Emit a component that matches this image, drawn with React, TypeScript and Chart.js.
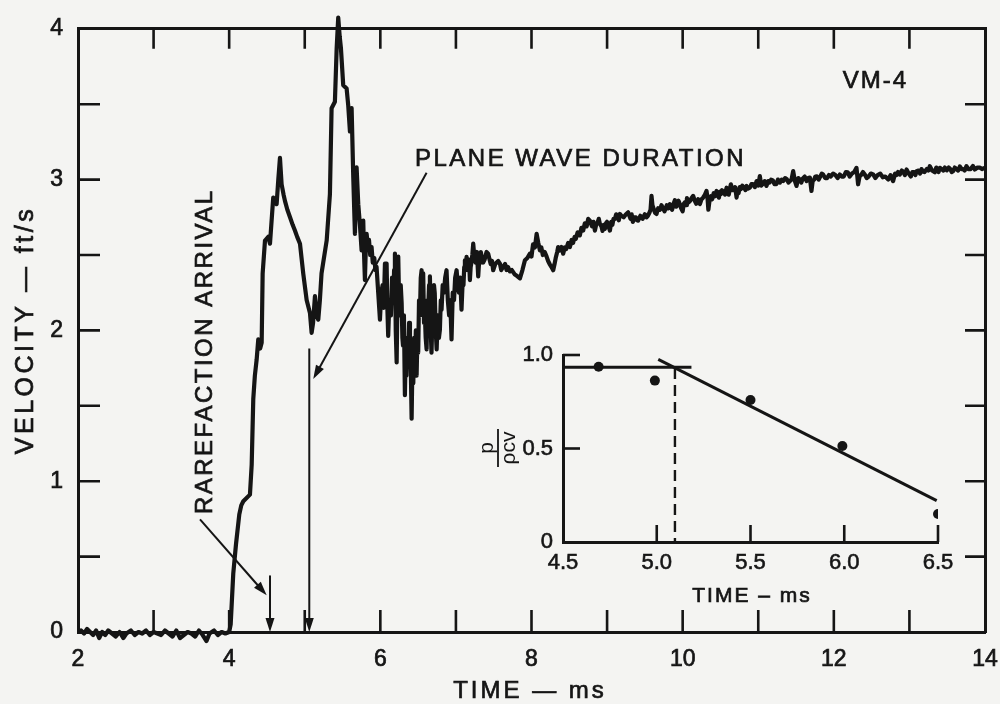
import React, { useEffect, useRef } from "react";
import { Chart, registerables } from "chart.js";

Chart.register(...registerables);

// ---------- main record: [time (ms), velocity (ft/s)] ----------
const baselineTrace: [number, number][] = [
  [2.04, 0.01], [2.08, -0.01], [2.12, 0.02], [2.16, 0.0], [2.2, -0.02], [2.24, 0.01], [2.28, -0.04],
  [2.32, 0.0], [2.36, -0.02], [2.4, 0.01], [2.45, -0.01], [2.5, -0.03], [2.55, 0.0], [2.6, -0.04],
  [2.64, -0.01], [2.7, 0.01], [2.75, -0.02], [2.8, 0.0], [2.85, -0.01], [2.9, 0.01], [2.95, -0.02],
  [3.0, 0.0], [3.05, -0.01], [3.1, -0.02], [3.15, 0.01], [3.2, -0.01], [3.25, -0.03], [3.3, 0.01],
  [3.35, -0.04], [3.4, -0.02], [3.45, 0.0], [3.5, -0.01], [3.55, -0.03], [3.6, 0.01], [3.65, -0.02],
  [3.7, -0.06], [3.74, -0.01], [3.8, 0.01], [3.85, -0.02], [3.9, 0.0], [3.95, -0.01], [4.0, 0.0],
];

const riseTrace: [number, number][] = [
  [4.02, 0.05], [4.054, 0.386], [4.09, 0.58], [4.134, 0.78], [4.16, 0.84], [4.187, 0.867], [4.275, 0.911],
  [4.298, 1.11], [4.319, 1.545], [4.34, 1.7], [4.364, 1.808], [4.385, 1.94], [4.41, 1.88], [4.43, 1.918],
  [4.443, 2.378], [4.474, 2.596], [4.517, 2.621], [4.54, 2.575], [4.583, 2.881], [4.628, 2.837],
  [4.65, 3.0], [4.672, 3.144], [4.694, 2.969], [4.72, 2.9], [4.738, 2.859], [4.77, 2.8], [4.804, 2.752],
  [4.84, 2.7], [4.87, 2.662], [4.9, 2.62], [4.937, 2.575], [4.98, 2.378], [5.025, 2.202], [5.069, 2.115],
  [5.091, 1.984], [5.11, 2.05], [5.135, 2.227], [5.158, 2.1], [5.179, 2.071], [5.2, 2.2], [5.222, 2.378],
  [5.29, 2.596], [5.333, 2.903], [5.355, 3.473], [5.399, 3.516], [5.422, 3.867], [5.443, 4.074],
  [5.462, 3.95], [5.479, 3.869], [5.509, 3.626], [5.554, 3.604], [5.575, 3.494], [5.598, 3.319],
  [5.62, 3.474], [5.642, 3.015], [5.664, 2.64], [5.686, 3.081], [5.708, 2.837], [5.73, 2.7],
];

const ringingTrace: [number, number][] = [
  [5.752, 2.531], [5.763, 2.65], [5.774, 2.728], [5.785, 2.5], [5.796, 2.334], [5.808, 2.55],
  [5.819, 2.64], [5.835, 2.55], [5.85, 2.6], [5.866, 2.5], [5.884, 2.553], [5.9, 2.45], [5.92, 2.48],
  [5.935, 2.4], [5.95, 2.422], [5.972, 2.25], [5.995, 2.071], [6.012, 2.25], [6.03, 2.3], [6.045, 2.15],
  [6.061, 2.443], [6.072, 2.2], [6.083, 2.443], [6.093, 2.15], [6.104, 1.964], [6.12, 2.2], [6.14, 2.1],
  [6.155, 2.35], [6.171, 2.181], [6.182, 2.4], [6.193, 2.509], [6.204, 2.0], [6.216, 1.787], [6.226, 2.2],
  [6.237, 2.489], [6.248, 2.2], [6.26, 2.1], [6.27, 2.3], [6.282, 2.181], [6.292, 1.95], [6.3, 1.9],
  [6.312, 2.1], [6.325, 1.57], [6.335, 1.85], [6.345, 1.7], [6.357, 1.95], [6.369, 1.787], [6.38, 2.05],
  [6.392, 1.964], [6.403, 1.75], [6.414, 1.414], [6.425, 1.8], [6.436, 1.65], [6.447, 1.95], [6.458, 1.787],
  [6.47, 2.0], [6.48, 1.7], [6.49, 1.95], [6.501, 1.852], [6.512, 2.2], [6.524, 2.1], [6.535, 2.35],
  [6.546, 2.399], [6.557, 2.1], [6.567, 2.378], [6.578, 2.05], [6.59, 2.1], [6.6, 1.95], [6.612, 1.874],
  [6.623, 2.2], [6.634, 2.15], [6.645, 2.3], [6.656, 2.358], [6.667, 2.0], [6.677, 1.852], [6.69, 2.1],
  [6.7, 2.1], [6.71, 2.3], [6.72, 2.246], [6.733, 2.0], [6.745, 1.874], [6.76, 2.1], [6.775, 1.95],
  [6.788, 2.005], [6.8, 2.2], [6.81, 2.137], [6.825, 2.3], [6.84, 2.25], [6.858, 2.35], [6.876, 2.399],
  [6.893, 2.2], [6.91, 2.1], [6.925, 2.2], [6.942, 1.94], [6.958, 2.25], [6.975, 2.2], [6.99, 2.35],
  [7.009, 2.399], [7.025, 2.3], [7.04, 2.25], [7.057, 2.35], [7.074, 2.137], [7.087, 2.3], [7.1, 2.3],
  [7.11, 2.42], [7.119, 2.465], [7.13, 2.4], [7.141, 2.487], [7.152, 2.42], [7.163, 2.4], [7.174, 2.47],
  [7.185, 2.334], [7.195, 2.42], [7.205, 2.45], [7.217, 2.5], [7.229, 2.575], [7.245, 2.48], [7.26, 2.45],
  [7.278, 2.52], [7.295, 2.358], [7.31, 2.48], [7.32, 2.45], [7.33, 2.52], [7.34, 2.489], [7.36, 2.45],
  [7.38, 2.47], [7.405, 2.52], [7.427, 2.509], [7.445, 2.47], [7.46, 2.44], [7.478, 2.46], [7.493, 2.399],
];

const recoveryTrace: [number, number][] = [
  [7.52, 2.44], [7.56, 2.46], [7.582, 2.443], [7.6, 2.4], [7.626, 2.424], [7.65, 2.44], [7.67, 2.4],
  [7.69, 2.42], [7.714, 2.391], [7.74, 2.4], [7.78, 2.37], [7.81, 2.36], [7.847, 2.345], [7.88, 2.4],
  [7.913, 2.465], [7.945, 2.48], [7.979, 2.509], [8.0, 2.49], [8.02, 2.57], [8.045, 2.55], [8.068, 2.64],
  [8.09, 2.58], [8.111, 2.531], [8.13, 2.55], [8.15, 2.5], [8.175, 2.52], [8.2, 2.489], [8.22, 2.46],
  [8.24, 2.44], [8.265, 2.42], [8.287, 2.399], [8.305, 2.44], [8.32, 2.48], [8.34, 2.52], [8.353, 2.553],
  [8.375, 2.53], [8.398, 2.553], [8.419, 2.509], [8.44, 2.55], [8.46, 2.54], [8.485, 2.58], [8.508, 2.553],
  [8.53, 2.6], [8.55, 2.58], [8.57, 2.62], [8.587, 2.608], [8.61, 2.65], [8.64, 2.63], [8.66, 2.68],
  [8.684, 2.662], [8.705, 2.71], [8.73, 2.69], [8.75, 2.74], [8.772, 2.728], [8.8, 2.69], [8.82, 2.72],
  [8.839, 2.662], [8.855, 2.7], [8.87, 2.71], [8.89, 2.74], [8.905, 2.706], [8.925, 2.69], [8.94, 2.66],
  [8.955, 2.7], [8.971, 2.673], [8.985, 2.71], [9.0, 2.72], [9.02, 2.69], [9.037, 2.662], [9.055, 2.72],
  [9.07, 2.7], [9.085, 2.74], [9.103, 2.739], [9.12, 2.77], [9.14, 2.76], [9.155, 2.73], [9.169, 2.772],
  [9.19, 2.76], [9.22, 2.75], [9.25, 2.77], [9.279, 2.783], [9.295, 2.76], [9.31, 2.74], [9.325, 2.77],
  [9.341, 2.719], [9.36, 2.75], [9.38, 2.75], [9.395, 2.73], [9.411, 2.728], [9.44, 2.76], [9.47, 2.74],
  [9.5, 2.77], [9.522, 2.75], [9.54, 2.76], [9.56, 2.78], [9.575, 2.8], [9.588, 2.892], [9.6, 2.83],
  [9.62, 2.8], [9.635, 2.78], [9.654, 2.772], [9.675, 2.81], [9.7, 2.8], [9.72, 2.83], [9.738, 2.811],
  [9.76, 2.79], [9.79, 2.83], [9.81, 2.81], [9.831, 2.837], [9.845, 2.82], [9.86, 2.8], [9.88, 2.84],
  [9.897, 2.864], [9.915, 2.82], [9.93, 2.83], [9.945, 2.86], [9.963, 2.837], [9.98, 2.81], [10.0, 2.79],
  [10.015, 2.84], [10.03, 2.85], [10.045, 2.83], [10.056, 2.877], [10.08, 2.85], [10.1, 2.86],
  [10.12, 2.88], [10.139, 2.892], [10.16, 2.86], [10.18, 2.84], [10.205, 2.87], [10.228, 2.837],
  [10.25, 2.87], [10.27, 2.88], [10.295, 2.9], [10.316, 2.925], [10.33, 2.87], [10.34, 2.8], [10.355, 2.86],
  [10.373, 2.89], [10.39, 2.87], [10.41, 2.91], [10.43, 2.89], [10.448, 2.925], [10.465, 2.9], [10.48, 2.88],
  [10.495, 2.92], [10.505, 2.903], [10.52, 2.93], [10.54, 2.92], [10.56, 2.9], [10.581, 2.946],
  [10.595, 2.92], [10.61, 2.9], [10.625, 2.94], [10.638, 2.969], [10.66, 2.93], [10.68, 2.93],
  [10.695, 2.95], [10.713, 2.881], [10.725, 2.92], [10.74, 2.91], [10.755, 2.95], [10.77, 2.936],
  [10.79, 2.96], [10.81, 2.95], [10.83, 2.93], [10.845, 2.958], [10.865, 2.94], [10.889, 2.946],
  [10.91, 2.97], [10.93, 2.97], [10.955, 2.95], [10.978, 2.99], [11.0, 2.96], [11.021, 3.023],
  [11.04, 2.96], [11.06, 2.97], [11.085, 2.99], [11.109, 2.958], [11.13, 2.99], [11.15, 2.98], [11.17, 3.0],
  [11.193, 2.995], [11.215, 2.97], [11.24, 2.97], [11.26, 3.0], [11.286, 2.98], [11.31, 3.0], [11.33, 2.99],
  [11.355, 3.01], [11.378, 3.002], [11.4, 2.98], [11.42, 2.99], [11.44, 3.0], [11.462, 3.056],
  [11.485, 2.99], [11.506, 2.958], [11.53, 3.01], [11.55, 3.0], [11.57, 2.98], [11.59, 3.008],
  [11.615, 3.02], [11.64, 2.99], [11.66, 3.01], [11.683, 3.013], [11.704, 2.925], [11.72, 2.99],
  [11.74, 3.0], [11.755, 3.02], [11.775, 3.021], [11.8, 3.0], [11.82, 3.02], [11.84, 3.04], [11.858, 3.034],
  [11.885, 3.01], [11.91, 3.01], [11.935, 3.03], [11.96, 3.021], [11.99, 3.04], [12.02, 3.03],
  [12.05, 3.01], [12.079, 3.034], [12.105, 3.02], [12.13, 3.02], [12.16, 3.05], [12.185, 3.048],
  [12.21, 3.02], [12.24, 3.04], [12.27, 3.05], [12.3, 3.078], [12.321, 2.969], [12.34, 3.02], [12.36, 3.03],
  [12.385, 3.05], [12.41, 3.034], [12.435, 3.01], [12.46, 3.02], [12.49, 3.04], [12.52, 3.034],
  [12.55, 3.01], [12.58, 3.03], [12.615, 3.04], [12.648, 3.015], [12.68, 3.02], [12.72, 3.0], [12.75, 3.03],
  [12.784, 2.99], [12.81, 3.04], [12.83, 3.03], [12.85, 3.05], [12.873, 3.034], [12.9, 3.06], [12.92, 3.05],
  [12.94, 3.03], [12.962, 3.067], [12.99, 3.04], [13.019, 3.021], [13.04, 3.05], [13.06, 3.05],
  [13.08, 3.03], [13.094, 3.056], [13.12, 3.06], [13.14, 3.04], [13.16, 3.07], [13.177, 3.054],
  [13.2, 3.05], [13.23, 3.07], [13.25, 3.06], [13.27, 3.089], [13.3, 3.06], [13.336, 3.048], [13.355, 3.08],
  [13.37, 3.07], [13.385, 3.05], [13.402, 3.078], [13.425, 3.07], [13.45, 3.06], [13.47, 3.08],
  [13.495, 3.061], [13.52, 3.08], [13.54, 3.07], [13.56, 3.05], [13.578, 3.056], [13.6, 3.08], [13.62, 3.07],
  [13.645, 3.06], [13.667, 3.087], [13.69, 3.07], [13.71, 3.07], [13.73, 3.06], [13.755, 3.089],
  [13.78, 3.07], [13.81, 3.07], [13.84, 3.09], [13.865, 3.067], [13.9, 3.08], [13.93, 3.08], [13.96, 3.07],
  [13.997, 3.078],
];

const velocityTrace = [...baselineTrace, ...riseTrace, ...ringingTrace, ...recoveryTrace];

// ---------- main axes ----------
const timeMin = 2;
const timeMax = 14;
const velocityMin = 0;
const velocityMax = 4;
const timeLabels = ["2", "4", "6", "8", "10", "12", "14"];
const velocityLabels = ["0", "1", "2", "3", "4"];

// ---------- annotation anchors (time ms, velocity ft/s) ----------
const rarefactionArrivalTime = 4.54;
const planeWaveEndTime = 5.06;

// ---------- inset: p/(rho c v) vs time ----------
const insetTime = [4.69, 4.99, 5.5, 5.99, 6.5];
const insetRatio = [0.937, 0.863, 0.759, 0.513, 0.15];
const flatFitTime = [4.5, 5.185];
const flatFitRatio = [0.934, 0.934];
const slopeFitTime = [5.008, 6.493];
const slopeFitRatio = [0.977, 0.221];
const durationMarkTime = [5.097, 5.097];
const durationMarkRatio = [0.93, 0];
const insetTimeLabels = ["4.5", "5.0", "5.5", "6.0", "6.5"];
const insetRatioLabels = ["0", "0.5", "1.0"];

const FONT = '"Liberation Sans", Arial, Helvetica, sans-serif';
const INK = "#151515";
const PAPER = "#f4f4f2";

function drawArrow(ctx: CanvasRenderingContext2D, x1: number, y1: number, x2: number, y2: number) {
  const head = 14;
  const half = 4.5;
  const a = Math.atan2(y2 - y1, x2 - x1);
  const c = Math.cos(a);
  const s = Math.sin(a);
  ctx.beginPath();
  ctx.moveTo(x1, y1);
  ctx.lineTo(x2 - c * head * 0.7, y2 - s * head * 0.7);
  ctx.stroke();
  ctx.beginPath();
  ctx.moveTo(x2, y2);
  ctx.lineTo(x2 - c * head + s * half, y2 - s * head - c * half);
  ctx.lineTo(x2 - c * head - s * half, y2 - s * head + c * half);
  ctx.closePath();
  ctx.fill();
}

function drawText(
  ctx: CanvasRenderingContext2D,
  text: string,
  x: number,
  y: number,
  size: number,
  spacing: number,
  align: CanvasTextAlign,
  rotate = false
) {
  ctx.save();
  ctx.font = `${size}px ${FONT}`;
  (ctx as any).letterSpacing = `${spacing}px`;
  ctx.textAlign = align;
  ctx.textBaseline = "alphabetic";
  ctx.fillStyle = INK;
  ctx.strokeStyle = INK;
  ctx.lineWidth = 0.7;
  ctx.translate(x, y);
  if (rotate) ctx.rotate(-Math.PI / 2);
  ctx.fillText(text, 0, 0);
  ctx.strokeText(text, 0, 0);
  ctx.restore();
}

const mainDecor = {
  id: "mainDecor",
  afterDraw(chart: any) {
    const { ctx, chartArea: area } = chart;
    const xs = chart.scales.x;
    const ys = chart.scales.y;
    ctx.save();
    ctx.strokeStyle = INK;
    ctx.fillStyle = INK;
    ctx.lineWidth = 2.6;
    ctx.lineCap = "butt";
    // inward tick marks on all four sides
    xs.ticks.forEach((t: any) => {
      if (t.value <= xs.min || t.value >= xs.max) return;
      const px = xs.getPixelForValue(t.value);
      ctx.beginPath();
      ctx.moveTo(px, area.bottom);
      ctx.lineTo(px, area.bottom - 22);
      ctx.moveTo(px, area.top);
      ctx.lineTo(px, area.top + 20);
      ctx.stroke();
    });
    ys.ticks.forEach((t: any) => {
      if (t.value <= ys.min || t.value >= ys.max) return;
      const py = ys.getPixelForValue(t.value);
      ctx.beginPath();
      ctx.moveTo(area.left, py);
      ctx.lineTo(area.left + 22, py);
      ctx.moveTo(area.right, py);
      ctx.lineTo(area.right - 20, py);
      ctx.stroke();
    });
    // arrows
    ctx.lineWidth = 2;
    const X = (v: number) => xs.getPixelForValue(v);
    const Y = (v: number) => ys.getPixelForValue(v);
    drawArrow(ctx, X(rarefactionArrivalTime), Y(0.375), X(rarefactionArrivalTime), Y(0));
    drawArrow(ctx, X(planeWaveEndTime), Y(1.88), X(planeWaveEndTime), Y(0));
    drawArrow(ctx, X(3.614), Y(0.747), X(4.496), Y(0.243));
    drawArrow(ctx, X(6.612), Y(3.046), X(5.112), Y(1.677));
    // annotation text
    drawText(ctx, "PLANE WAVE DURATION", X(6.458), Y(3.087), 24, 2.5, "left");
    drawText(ctx, "RAREFACTION ARRIVAL", X(3.772), Y(0.782), 24, 2.5, "left", true);
    drawText(ctx, "VM-4", X(12.119), Y(3.606), 24, 2, "left");
    // axis titles
    drawText(ctx, "TIME — ms", 530, 698, 24, 3, "center");
    drawText(ctx, "VELOCITY — ft/s", 33, 330, 25, 3.5, "center", true);
    ctx.restore();
  },
};

const insetDecor = {
  id: "insetDecor",
  afterDraw(chart: any) {
    const { ctx, chartArea: area } = chart;
    const xs = chart.scales.x;
    const ys = chart.scales.y;
    ctx.save();
    ctx.strokeStyle = INK;
    ctx.lineWidth = 2.6;
    xs.ticks.forEach((t: any) => {
      if (t.value <= xs.min + 1e-9) return;
      const px = xs.getPixelForValue(t.value);
      ctx.beginPath();
      ctx.moveTo(px, area.bottom);
      ctx.lineTo(px, area.bottom - 17);
      ctx.stroke();
    });
    ys.ticks.forEach((t: any) => {
      if (t.value <= ys.min + 1e-9) return;
      const py = ys.getPixelForValue(t.value);
      ctx.beginPath();
      ctx.moveTo(area.left, py);
      ctx.lineTo(area.left + 17, py);
      ctx.stroke();
    });
    drawText(ctx, "TIME – ms", 312, 272, 21, 2, "center");
    // rotated fraction p / (rho c v)
    ctx.translate(58, 118);
    ctx.rotate(-Math.PI / 2);
    ctx.fillStyle = INK;
    ctx.font = `21px ${FONT}`;
    ctx.textAlign = "center";
    ctx.textBaseline = "alphabetic";
    ctx.fillText("p", 0, -5);
    ctx.fillText("ρcv", 0, 17);
    ctx.lineWidth = 1.8;
    ctx.beginPath();
    ctx.moveTo(-19, 0);
    ctx.lineTo(19, 0);
    ctx.stroke();
    ctx.restore();
  },
};

export default function App() {
  const mainRef = useRef<HTMLCanvasElement>(null);
  const insetRef = useRef<HTMLCanvasElement>(null);

  useEffect(() => {
    const hiddenAxis = (position: string, min: number, max: number, step: number, size: number) => ({
      type: "linear",
      position,
      min,
      max,
      grid: { display: false, drawTicks: false },
      border: { display: true, color: INK, width: 3 },
      ticks: { display: false, stepSize: step },
      afterFit: (s: any) => {
        if (position === "top" || position === "bottom") s.height = size;
        else s.width = size;
      },
    });

    const main = new Chart(mainRef.current as HTMLCanvasElement, {
      type: "line",
      data: {
        datasets: [
          {
            data: velocityTrace.map(([x, y]) => ({ x, y })),
            borderColor: INK,
            borderWidth: 4.2,
            pointRadius: 0,
            tension: 0,
            clip: false as any,
            borderJoinStyle: "round",
            borderCapStyle: "round",
          },
        ],
      },
      options: {
        responsive: false,
        animation: false,
        events: [],
        layout: { padding: 0 },
        plugins: { legend: { display: false }, tooltip: { enabled: false } },
        scales: {
          x: {
            type: "linear",
            position: "bottom",
            min: timeMin,
            max: timeMax,
            grid: { display: false, drawTicks: false },
            border: { display: true, color: INK, width: 3 },
            ticks: {
              stepSize: 1,
              padding: 2,
              color: INK,
              textStrokeColor: INK,
              textStrokeWidth: 0.7,
              font: { family: FONT, size: 23, lineHeight: 2.26 },
              maxRotation: 0,
              autoSkip: false,
              callback: (v: any) => timeLabels.find((l) => Number(l) === v) ?? "",
            },
            afterFit: (s: any) => {
              s.height = 72;
            },
          },
          xTop: hiddenAxis("top", timeMin, timeMax, 1, 23) as any,
          y: {
            type: "linear",
            position: "left",
            min: velocityMin,
            max: velocityMax,
            grid: { display: false, drawTicks: false },
            border: { display: true, color: INK, width: 3 },
            ticks: {
              stepSize: 0.5,
              padding: 15,
              color: INK,
              textStrokeColor: INK,
              textStrokeWidth: 0.7,
              font: { family: FONT, size: 23 },
              autoSkip: false,
              callback: (v: any) => velocityLabels.find((l) => Number(l) === v) ?? "",
            },
            afterFit: (s: any) => {
              s.width = 78;
            },
          },
          yRight: hiddenAxis("right", velocityMin, velocityMax, 0.5, 15) as any,
        },
      } as any,
      plugins: [mainDecor],
    });

    const insetFont = { family: FONT, size: 22 };
    const inset = new Chart(insetRef.current as HTMLCanvasElement, {
      type: "scatter",
      data: {
        datasets: [
          {
            type: "scatter",
            data: insetTime.map((x, i) => ({ x, y: insetRatio[i] })),
            backgroundColor: INK,
            borderWidth: 0,
            pointRadius: 5,
          },
          {
            type: "line",
            data: flatFitTime.map((x, i) => ({ x, y: flatFitRatio[i] })),
            borderColor: INK,
            borderWidth: 3,
            pointRadius: 0,
          },
          {
            type: "line",
            data: slopeFitTime.map((x, i) => ({ x, y: slopeFitRatio[i] })),
            borderColor: INK,
            borderWidth: 3,
            pointRadius: 0,
            clip: false as any,
          },
          {
            type: "line",
            data: durationMarkTime.map((x, i) => ({ x, y: durationMarkRatio[i] })),
            borderColor: INK,
            borderWidth: 2.4,
            borderDash: [11, 6],
            pointRadius: 0,
          },
        ] as any,
      },
      options: {
        responsive: false,
        animation: false,
        events: [],
        layout: { padding: { top: 25, right: 42, left: 0, bottom: 0 } },
        plugins: { legend: { display: false }, tooltip: { enabled: false } },
        scales: {
          x: {
            type: "linear",
            position: "bottom",
            min: 4.5,
            max: 6.5,
            grid: { display: false, drawTicks: false },
            border: { display: true, color: INK, width: 3 },
            ticks: {
              stepSize: 0.5,
              padding: 8,
              color: INK,
              textStrokeColor: INK,
              textStrokeWidth: 0.6,
              font: insetFont,
              maxRotation: 0,
              autoSkip: false,
              callback: (v: any) => insetTimeLabels.find((l) => Math.abs(Number(l) - v) < 1e-6) ?? "",
            },
            afterFit: (s: any) => {
              s.height = 78;
            },
          },
          y: {
            type: "linear",
            position: "left",
            min: 0,
            max: 1,
            grid: { display: false, drawTicks: false },
            border: { display: true, color: INK, width: 3 },
            ticks: {
              stepSize: 0.5,
              padding: 10,
              color: INK,
              textStrokeColor: INK,
              textStrokeWidth: 0.6,
              font: insetFont,
              autoSkip: false,
              callback: (v: any) => insetRatioLabels.find((l) => Math.abs(Number(l) - v) < 1e-6) ?? "",
            },
            afterFit: (s: any) => {
              s.width = 123;
            },
          },
        },
      } as any,
      plugins: [insetDecor],
    });

    return () => {
      main.destroy();
      inset.destroy();
    };
  }, []);

  return (
    <div style={{ position: "fixed", left: 0, top: 0, width: 1000, height: 704, background: PAPER, overflow: "hidden" }}>
      <canvas
        ref={mainRef}
        width={1000}
        height={704}
        style={{ position: "absolute", left: 0, top: 0, width: 1000, height: 704 }}
      />
      <canvas
        ref={insetRef}
        width={540}
        height={290}
        style={{ position: "absolute", left: 440, top: 330, width: 540, height: 290 }}
      />
    </div>
  );
}
